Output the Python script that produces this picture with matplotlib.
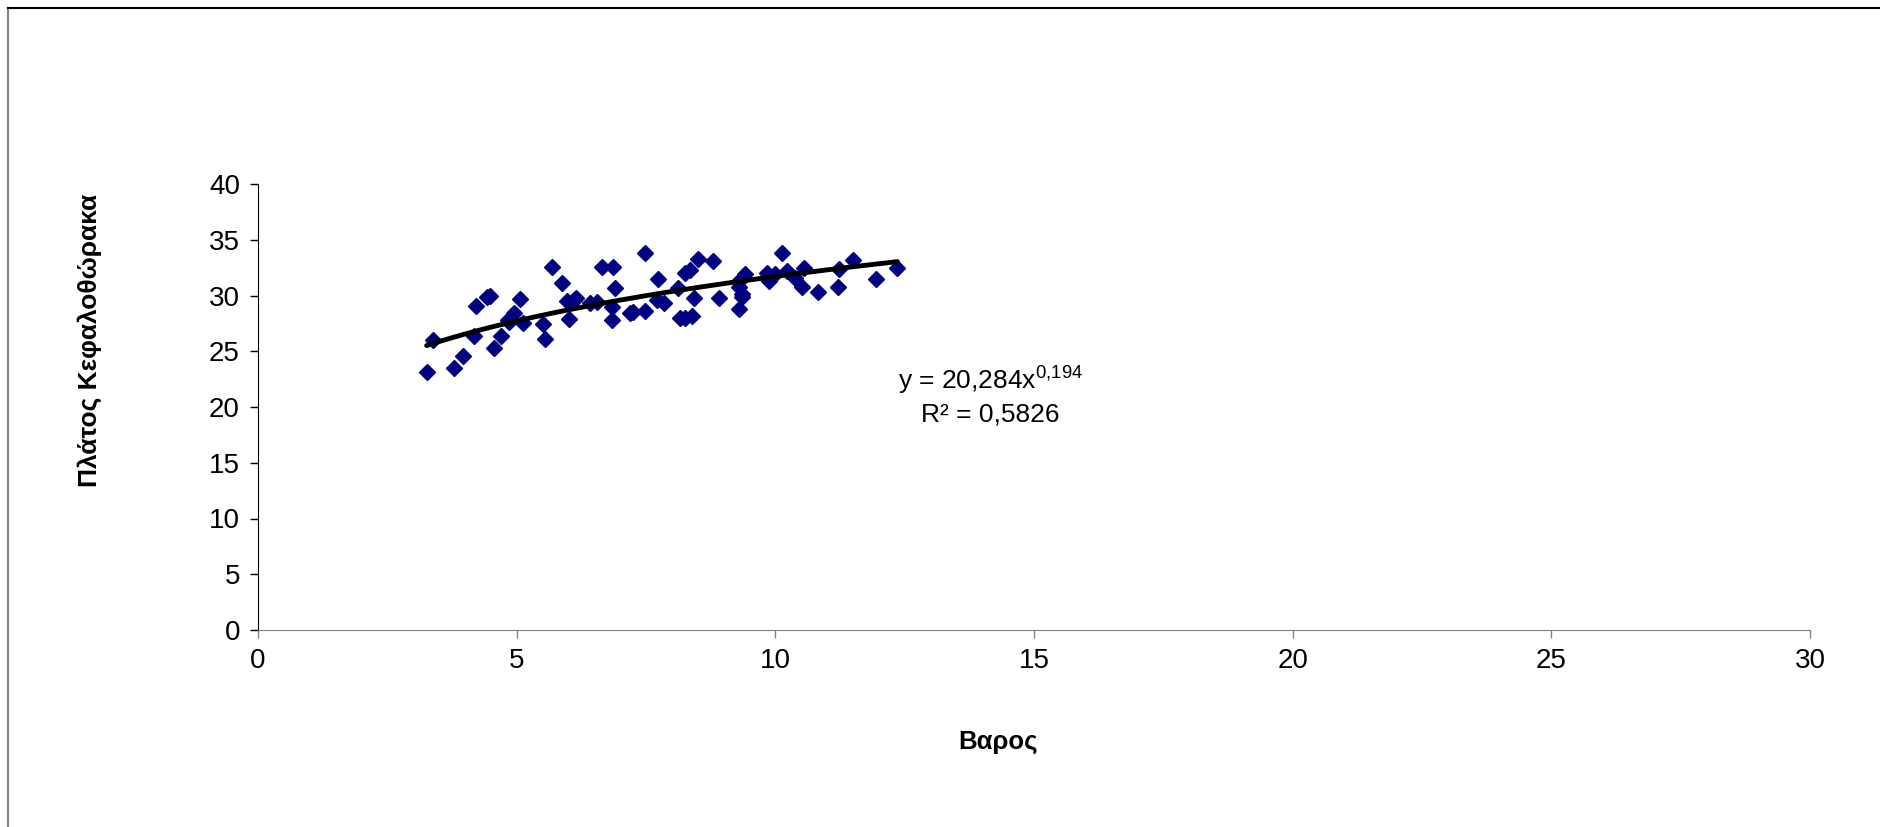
import matplotlib.pyplot as plt
from matplotlib.lines import Line2D
import numpy as np

plt.rcParams['font.family'] = ['Liberation Sans', 'DejaVu Sans']
plt.rcParams['mathtext.default'] = 'regular'

# weight (Βαρος) vs carapace width (Πλάτος Κεφαλοθώρακα)
weight = [3.26, 3.39, 3.79, 3.97, 4.18, 4.21, 4.42, 4.48, 4.56, 4.69, 4.84, 4.86, 4.94,
          5.06, 5.13, 5.50, 5.55, 5.68, 5.87, 5.98, 6.02, 6.10, 6.15, 6.41, 6.55, 6.64,
          6.84, 6.84, 6.87, 6.90, 7.20, 7.25, 7.49, 7.49, 7.71, 7.73, 7.85, 8.12, 8.16,
          8.25, 8.25, 8.35, 8.38, 8.42, 8.51, 8.79, 8.91, 9.29, 9.30, 9.32, 9.35, 9.35,
          9.41, 9.83, 9.87, 9.99, 10.12, 10.22, 10.38, 10.51, 10.56, 10.83, 11.22, 11.23,
          11.50, 11.95, 12.36]
width = [23.1, 26.0, 23.5, 24.6, 26.4, 29.1, 29.9, 30.0, 25.3, 26.4, 27.8, 27.6, 28.4,
         29.7, 27.5, 27.4, 26.1, 32.6, 31.1, 29.5, 27.9, 29.6, 29.8, 29.3, 29.4, 32.6,
         29.0, 27.8, 32.6, 30.7, 28.4, 28.5, 28.6, 33.8, 29.6, 31.5, 29.3, 30.7, 28.0,
         32.0, 28.0, 32.3, 28.2, 29.8, 33.3, 33.1, 29.8, 30.8, 28.8, 31.4, 29.9, 30.1,
         31.9, 32.0, 31.3, 31.9, 33.8, 32.2, 31.6, 30.8, 32.5, 30.3, 30.8, 32.4,
         33.2, 31.5, 32.5]

# power trendline coefficients
coef_a = 20.284
coef_b = 0.194
r_squared = 0.5826

fig = plt.figure(figsize=(18.81, 8.27), dpi=100)
ax = fig.add_axes([258 / 1881, 1 - 630 / 827, (1810 - 258) / 1881, (630 - 184) / 827])

ax.plot(weight, width, linestyle='none', marker='D', ms=8,
        color='#000080', markeredgecolor='#000080')

xs = np.linspace(min(weight), max(weight), 200)
ax.plot(xs, coef_a * xs ** coef_b, color='black', lw=3.5, solid_capstyle='round')

ax.set_xlim(0, 30)
ax.set_ylim(0, 40)
ax.set_xticks(range(0, 31, 5))
ax.set_yticks(range(0, 41, 5))
ax.tick_params(labelsize=20, length=6, width=1, direction='out', pad=7)
ax.tick_params(axis='x', colors='#808080', labelcolor='black')
for side in ['top', 'right']:
    ax.spines[side].set_visible(False)
ax.spines['bottom'].set_color('#808080')
ax.spines['left'].set_color('black')

ax.text(14.15, 22.3, 'y = 20,284x$^{0{,}194}$', ha='center', va='center', fontsize=19)
ax.text(14.15, 19.3, 'R² = 0,5826', ha='center', va='center', fontsize=19)

fig.text(998 / 1881, 1 - 742 / 827, 'Βαρος', ha='center', va='center',
         fontsize=18.5, fontweight='bold')
fig.text(90 / 1881, 1 - 340 / 827, 'Πλάτος Κεφαλοθώρακα', ha='center', va='center',
         rotation=90, fontsize=19, fontweight='bold')

# outer chart frame (left and top edges only)
fig.add_artist(Line2D([8 / 1881, 8 / 1881], [0, 1 - 8 / 827], transform=fig.transFigure,
                      color='#808080', lw=1.5))
fig.add_artist(Line2D([8 / 1881, 1], [1 - 8 / 827, 1 - 8 / 827], transform=fig.transFigure,
                      color='black', lw=1.5))

fig.savefig('out.png', dpi=100, facecolor='white')
